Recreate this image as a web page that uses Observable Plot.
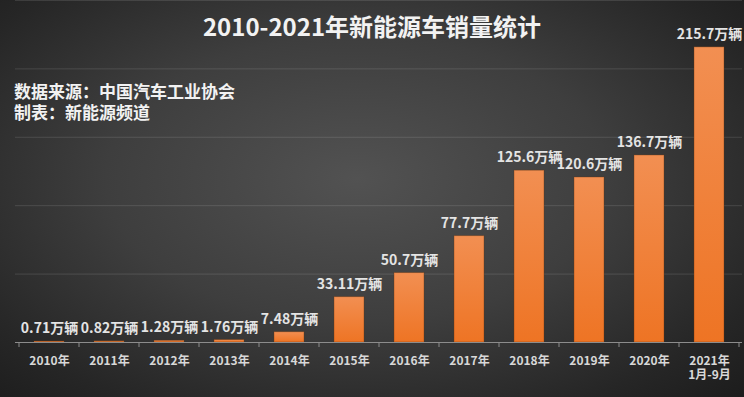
<!DOCTYPE html>
<html>
<head>
<meta charset="utf-8">
<script src="https://cdn.jsdelivr.net/npm/d3@7"></script>
<script src="https://cdn.jsdelivr.net/npm/@observablehq/plot@0.6"></script>
<style>
  html, body { margin: 0; padding: 0; }
  body { width: 744px; height: 397px; overflow: hidden; }
  #wrap {
    position: relative; width: 744px; height: 397px;
    background: radial-gradient(ellipse 75% 80% at 48% 45%, #525252 0%, #3e3e3e 45%, #262626 80%, #1b1b1b 100%);
    font-family: "Noto Sans CJK SC", "Noto Sans", sans-serif;
  }
  #title {
    position: absolute; left: 0; width: 744px; top: 8px; text-align: center;
    color: #f2f2f2; font-size: 24px; font-weight: bold; line-height: 36px;
  }
  #source {
    position: absolute; left: 14px; top: 80px; color: #f2f2f2;
    font-size: 17px; font-weight: bold; line-height: 21px;
  }
  #chart { position: absolute; left: 0; top: 0; }
</style>
</head>
<body>
<div id="wrap">
  <div id="chart"></div>
  <div id="title">2010-2021年新能源车销量统计</div>
  <div id="source">数据来源：中国汽车工业协会<br>制表：新能源频道</div>
</div>
<script>
const categories = ["2010","2011","2012","2013","2014","2015","2016","2017","2018","2019","2020","2021"];
const tickLabels = ["2010年","2011年","2012年","2013年","2014年","2015年","2016年","2017年","2018年","2019年","2020年","2021年\n1月-9月"];
const sales = [0.71, 0.82, 1.28, 1.76, 7.48, 33.11, 50.7, 77.7, 125.6, 120.6, 136.7, 215.7];
const valueLabels = ["0.71万辆","0.82万辆","1.28万辆","1.76万辆","7.48万辆","33.11万辆","50.7万辆","77.7万辆","125.6万辆","120.6万辆","136.7万辆","215.7万辆"];
const gridValues = [50, 100, 150, 200, 250];

const data = categories.map((c, i) => ({year: c, value: sales[i], label: valueLabels[i]}));

const defsMark = () => {
  const ns = "http://www.w3.org/2000/svg";
  const defs = document.createElementNS(ns, "defs");
  const g = document.createElementNS(ns, "linearGradient");
  g.setAttribute("id", "barGrad");
  g.setAttribute("x1", "0"); g.setAttribute("y1", "0");
  g.setAttribute("x2", "0"); g.setAttribute("y2", "1");
  [["0%", "#f28f52"], ["100%", "#ee7424"]].forEach(([o, c]) => {
    const s = document.createElementNS(ns, "stop");
    s.setAttribute("offset", o); s.setAttribute("stop-color", c);
    g.appendChild(s);
  });
  defs.appendChild(g);
  return defs;
};

const plot = Plot.plot({
  width: 744,
  height: 397,
  marginLeft: 15,
  marginRight: 2,
  marginTop: 41,
  marginBottom: 55,
  style: {background: "transparent", color: "#dddddd", fontFamily: "'Noto Sans CJK SC', 'Noto Sans', sans-serif", overflow: "visible"},
  x: {domain: categories, paddingInner: 0.5, paddingOuter: 0.25, axis: null},
  y: {domain: [0, 220], axis: null},
  marks: [
    defsMark,
    Plot.ruleY(gridValues, {stroke: "#ffffff", strokeOpacity: 0.12}),
    Plot.barY(data, {x: "year", y: "value", fill: "url(#barGrad)", stroke: "#6b3510", strokeOpacity: 0.45, strokeWidth: 0.8}),
    Plot.text(data, {x: "year", y: "value", text: "label", dy: -13, fill: "#e4e4e4", fontSize: 14, fontWeight: "bold"}),
    Plot.axisX({label: null, tickSize: 0, tickPadding: 12, tickFormat: (d) => tickLabels[categories.indexOf(d)], fontSize: 12, fontWeight: "bold", fill: "#d8d8d8", lineHeight: 1.2}),
    Plot.ruleY([0], {stroke: "#8c8c8c", strokeWidth: 1})
  ]
});

document.getElementById("chart").appendChild(plot);

// boundary ticks between bands, using the plot's own x scale
const sx = plot.scale("x");
const sy = plot.scale("y");
const y0 = sy.apply(0);
const gap = (sx.step - sx.bandwidth) / 2;
const bounds = categories.map(c => sx.apply(c) - gap);
bounds.push(sx.apply(categories[categories.length - 1]) + sx.bandwidth + gap);
d3.select(plot).append("g")
  .selectAll("line").data(bounds).join("line")
  .attr("x1", d => d).attr("x2", d => d)
  .attr("y1", y0).attr("y2", y0 + 5)
  .attr("stroke", "#8c8c8c");
</script>
</body>
</html>
